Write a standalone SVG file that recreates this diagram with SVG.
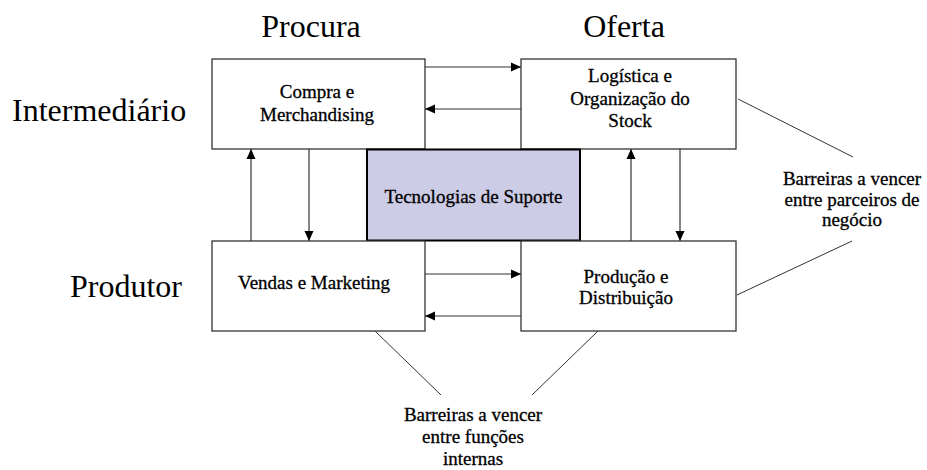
<svg xmlns="http://www.w3.org/2000/svg" width="927" height="470" viewBox="0 0 927 470">
<style>
text{font-family:"Liberation Serif","Times New Roman",serif;fill:#000}
.big{font-size:32px}
.lbl{font-size:19px;text-anchor:middle;stroke:#000;stroke-width:0.3}
.box{fill:#fff;stroke:#333;stroke-width:1.3}
.tech{fill:#ccccE6;stroke:#000;stroke-width:2}
.arr{fill:none;stroke:#333;stroke-width:1.2;marker-end:url(#ah)}
.ln{fill:none;stroke:#333;stroke-width:1}
</style>
<defs>
<marker id="ah" markerUnits="userSpaceOnUse" markerWidth="10" markerHeight="10" refX="10" refY="5" orient="auto">
<path d="M0,0.5 L10,5 L0,9.5 z" fill="#000"/>
</marker>
</defs>
<rect width="927" height="470" fill="#fff"/>
<g id="headers">
<text class="big" x="311" y="37" text-anchor="middle">Procura</text>
<text class="big" x="624" y="37" text-anchor="middle">Oferta</text>
<text class="big" x="12" y="121">Intermediário</text>
<text class="big" x="70" y="297">Produtor</text>
</g>
<g id="connectors">
<path class="arr" d="M425,67 L521,67"/>
<path class="arr" d="M521,109 L425,109"/>
<path class="arr" d="M251,241 L251,149"/>
<path class="arr" d="M309,149 L309,241"/>
<path class="arr" d="M631,241 L631,149"/>
<path class="arr" d="M680,149 L680,241"/>
<path class="arr" d="M425,274 L521,274"/>
<path class="arr" d="M521,316 L425,316"/>
<path class="ln" d="M738,99 L853,157"/>
<path class="ln" d="M852,241 L737,295"/>
<path class="ln" d="M375,331 L441,395"/>
<path class="ln" d="M598,331 L532,395"/>
</g>
<g id="compra">
<rect class="box" x="212" y="59" width="213" height="90"/>
<text class="lbl" x="317" y="98">Compra e</text>
<text class="lbl" x="317" y="121">Merchandising</text>
</g>
<g id="logistica">
<rect class="box" x="521" y="59" width="215" height="90"/>
<text class="lbl" x="630" y="82">Logística e</text>
<text class="lbl" x="630" y="105">Organização do</text>
<text class="lbl" x="630" y="127">Stock</text>
</g>
<g id="tecnologias">
<rect class="tech" x="367" y="149.5" width="213" height="91"/>
<text class="lbl" x="473.5" y="203">Tecnologias de Suporte</text>
</g>
<g id="vendas">
<rect class="box" x="212" y="241" width="213" height="90"/>
<text class="lbl" x="314" y="289">Vendas e Marketing</text>
</g>
<g id="producao">
<rect class="box" x="521" y="241" width="215" height="90"/>
<text class="lbl" x="626" y="283">Produção e</text>
<text class="lbl" x="626" y="304">Distribuição</text>
</g>
<g id="barreiras-parceiros">
<text class="lbl" x="852" y="185">Barreiras a vencer</text>
<text class="lbl" x="852" y="205.5">entre parceiros de</text>
<text class="lbl" x="852" y="226">negócio</text>
</g>
<g id="barreiras-funcoes">
<text class="lbl" x="473" y="421">Barreiras a vencer</text>
<text class="lbl" x="473" y="443">entre funções</text>
<text class="lbl" x="473" y="465">internas</text>
</g>
</svg>
